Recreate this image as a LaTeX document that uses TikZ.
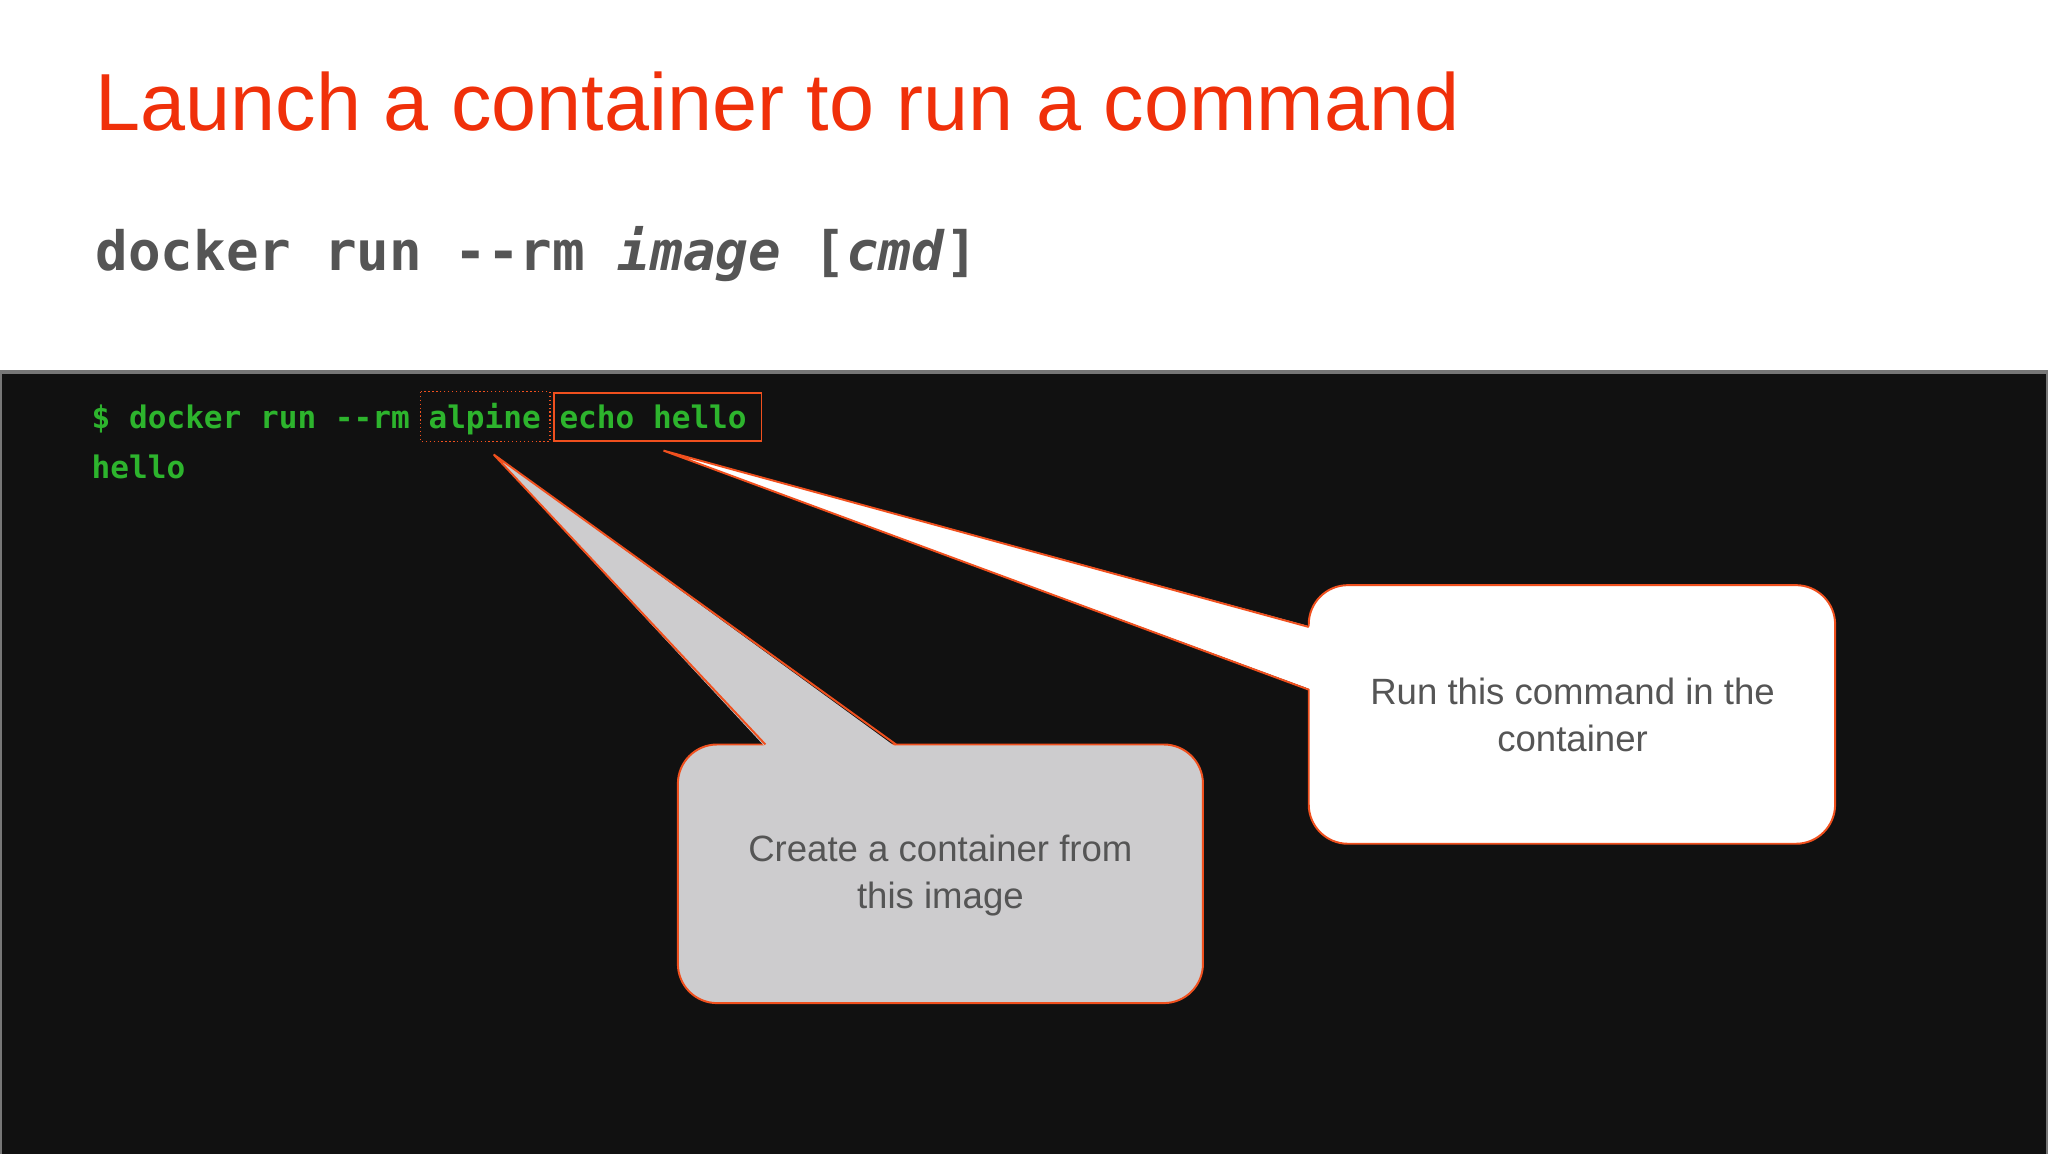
\documentclass[tikz,border=0pt]{standalone}
\usepackage{fontspec}
\setmainfont{Liberation Sans}
\setmonofont{DejaVu Sans Mono}
\definecolor{ttl}{HTML}{F0300A}
\definecolor{cmdg}{HTML}{555555}
\definecolor{term}{HTML}{111111}
\definecolor{tgreen}{HTML}{2DB42D}
\definecolor{edge}{HTML}{F0501E}
\definecolor{callg}{HTML}{CDCCCE}
\definecolor{ctext}{HTML}{555555}
\tikzset{
 ttext/.style={anchor=base west,inner sep=0,text=tgreen,font=\fontsize{23.8}{28}\selectfont\ttfamily\bfseries},
 calltext/.style={align=center,text=ctext,font=\fontsize{28}{36}\selectfont},
 cbox/.style={draw=edge,line width=1.5pt,rounded corners=30pt},
}
\begin{document}
\begin{tikzpicture}[x=1pt,y=-1pt]
\useasboundingbox (0,0) rectangle (1568,883);
\fill[white] (0,0) rectangle (1568,883);
\node[anchor=base west,inner sep=0,text=ttl,font=\fontsize{62}{70}\selectfont] (title) at (73,100) {Launch a container to run a command};
\node[anchor=base west,inner sep=0,text=cmdg,font=\fontsize{41.5}{48}\selectfont\ttfamily\bfseries] (cmd) at (73,207) {docker run -{}-rm \textit{image} [\textit{cmd}]};
\draw[fill=term,draw=cmdg!80,line width=3pt] (0,285) rectangle (1568,885);
\node[ttext] (l1) at (70,328) {\$ docker run -{}-rm alpine echo hello};
\node[ttext] (l2) at (70,366) {hello};
\draw[edge,dotted,line width=1pt] (322,300) rectangle (421,338);
\draw[edge,line width=1.5pt] (424,301) rectangle (583,338);
% gray callout
\path[cbox,fill=callg] (519,570) rectangle (921,768);
\fill[callg] (586,572) -- (378,348) -- (686,572) -- cycle;
\draw[edge,line width=1.5pt] (586,570) -- (378,348) -- (686,570);
\node[calltext] (c1) at (720,670) {Create a container from\\this image};
% white callout
\path[cbox,fill=white] (1002,448) rectangle (1405,646);
\fill[white] (1004,480) -- (508,345) -- (1004,528) -- cycle;
\draw[edge,line width=1.5pt] (1002,480) -- (508,345) -- (1002,528);
\node[calltext] (c2) at (1204,547) {Run this command in the\\container};
\end{tikzpicture}
\end{document}
